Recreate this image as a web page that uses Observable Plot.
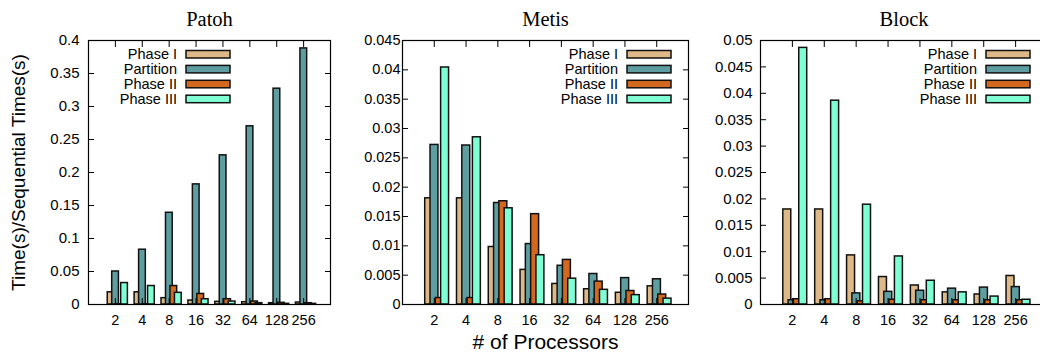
<!DOCTYPE html>
<html><head><meta charset="utf-8">
<script src="https://cdn.jsdelivr.net/npm/d3@7"></script>
<script src="https://cdn.jsdelivr.net/npm/@observablehq/plot@0.6"></script>
<style>
body{margin:0;background:#fff;}
#wrap{position:relative;width:1040px;height:354px;overflow:hidden;background:#fff;}
#wrap svg{position:absolute;top:0;}
</style></head><body><div id="wrap"></div>
<script>
const processors = ["2","4","8","16","32","64","128","256"];
const seriesNames = ["Phase I","Partition","Phase II","Phase III"];
const seriesColors = ["#deb887","#5f9ea0","#d2691e","#7fffd4"];

const patohPhase1    = [0.0185, 0.0185, 0.0096, 0.006, 0.004, 0.0035, 0.002, 0.003];
const patohPartition = [0.050, 0.083, 0.139, 0.182, 0.226, 0.270, 0.327, 0.388];
const patohPhase2    = [0.0005, 0.0005, 0.028, 0.016, 0.008, 0.0045, 0.0025, 0.002];
const patohPhase3    = [0.0325, 0.028, 0.0177, 0.008, 0.0045, 0.002, 0.001, 0.001];

const metisPhase1    = [0.0181, 0.0181, 0.0098, 0.0059, 0.0035, 0.0026, 0.002, 0.0031];
const metisPartition = [0.0272, 0.0271, 0.0173, 0.0103, 0.0066, 0.0052, 0.0045, 0.0043];
const metisPhase2    = [0.0011, 0.0011, 0.0176, 0.0154, 0.0076, 0.0039, 0.0023, 0.0017];
const metisPhase3    = [0.0404, 0.0285, 0.0164, 0.0084, 0.0044, 0.0025, 0.0016, 0.001];

const blockPhase1    = [0.018, 0.018, 0.0093, 0.0052, 0.0036, 0.0023, 0.0019, 0.0054];
const blockPartition = [0.0008, 0.0008, 0.0021, 0.0024, 0.0026, 0.003, 0.0032, 0.0033];
const blockPhase2    = [0.001, 0.001, 0.0006, 0.0009, 0.0008, 0.0008, 0.0008, 0.0008];
const blockPhase3    = [0.0486, 0.0386, 0.0189, 0.0091, 0.0045, 0.0023, 0.0015, 0.0009];

const patohTicks = [0, 0.05, 0.1, 0.15, 0.2, 0.25, 0.3, 0.35, 0.4];
const metisTicks = [0, 0.005, 0.01, 0.015, 0.02, 0.025, 0.03, 0.035, 0.04, 0.045];
const blockTicks = [0, 0.005, 0.01, 0.015, 0.02, 0.025, 0.03, 0.035, 0.04, 0.045, 0.05];

const yLabel = "Time(s)/Sequential Times(s)";
const xLabel = "# of Processors";

const panels = [
  {title: "Patoh", series: [patohPhase1, patohPartition, patohPhase2, patohPhase3], yMax: 0.4, ticks: patohTicks,
   left: 0, width: 340, mL: 88, mR: 10, pad: 9, legendX: 186, yLabel: true, stretch: 1},
  {title: "Metis", series: [metisPhase1, metisPartition, metisPhase2, metisPhase3], yMax: 0.045, ticks: metisTicks,
   left: 340, width: 360, mL: 62, mR: 12, pad: 2, legendX: 287, xLabel: true, stretch: 1.25},
  {title: "Block", series: [blockPhase1, blockPartition, blockPhase2, blockPhase3], yMax: 0.05, ticks: blockTicks,
   left: 690, width: 360, mL: 70, mR: 3, pad: 8, legendX: 296, stretch: 1}
];

const font = "'Liberation Sans', Arial, Helvetica, sans-serif";
const wrap = document.getElementById("wrap");
const idx = processors.map((_, i) => i);
const fmt = d => String(+d.toFixed(4));
const BW = 0.25, STEP = 1/6, SHIFT = 0.09;

for (const p of panels) {
  const marks = [];
  p.series.forEach((vals, s) => {
    const data = vals.map((v, i) => ({i, v, s}));
    marks.push(Plot.rect(data, {
      x1: d => d.i + (d.s - 1.5) * STEP + SHIFT - BW / 2,
      x2: d => d.i + (d.s - 1.5) * STEP + SHIFT + BW / 2,
      y1: () => 0,
      y2: "v",
      fill: seriesColors[s],
      stroke: "#111",
      strokeWidth: 1.5
    }));
  });
  marks.push(Plot.frame({stroke: "#000", strokeWidth: 1.2}));
  marks.push(Plot.axisY({ticks: p.ticks, tickSize: 0, tickPadding: p.pad, tickFormat: fmt, label: null,
    fontSize: p.stretch > 1 ? 14.5 : 15, ariaLabel: "ylabels"}));
  marks.push(Plot.axisY({ticks: p.ticks, anchor: "left", tickSize: -6, fill: "none", label: null}));
  marks.push(Plot.axisY({ticks: p.ticks, anchor: "right", tickSize: -6, fill: "none", label: null}));
  marks.push(Plot.axisX({ticks: idx, tickSize: 0, tickPadding: 10, tickFormat: i => processors[i], label: null, fontSize: 14.5}));
  marks.push(Plot.axisX({ticks: idx, anchor: "bottom", tickSize: -6, fill: "none", label: null}));
  marks.push(Plot.axisX({ticks: idx, anchor: "top", tickSize: -6, fill: "none", label: null}));
  marks.push(Plot.text([p.title], {text: d => d, frameAnchor: "top", lineAnchor: "bottom", dy: -15,
    fontFamily: "'Liberation Serif', 'Times New Roman', serif", fontSize: 20.5, fill: "#000"}));
  if (p.yLabel) marks.push(Plot.text([yLabel], {text: d => d, frameAnchor: "left", textAnchor: "middle",
    lineAnchor: "middle", rotate: -90, dx: -70, fontSize: 19, fill: "#000"}));
  if (p.xLabel) marks.push(Plot.text([xLabel], {text: d => d, frameAnchor: "bottom", lineAnchor: "bottom", dy: 44,
    fontSize: 21, fill: "#000"}));

  const svg = Plot.plot({
    width: p.width, height: 354,
    marginLeft: p.mL, marginRight: p.mR, marginTop: 40, marginBottom: 50,
    x: {type: "linear", domain: [-1, 8]},
    y: {type: "linear", domain: [0, p.yMax]},
    style: {fontFamily: font, fontSize: "15px", color: "#000", background: "transparent", overflow: "visible"},
    marks
  });
  svg.style.left = p.left + "px";
  if (p.stretch !== 1) {
    d3.select(svg).selectAll('g[aria-label="ylabels"] text').each(function() {
      const t = this.getAttribute("transform");
      if (t) {
        this.setAttribute("transform", t + ` scale(${p.stretch},1)`);
      } else {
        const x = +this.getAttribute("x") || 0, y = +this.getAttribute("y") || 0;
        this.removeAttribute("x"); this.removeAttribute("y");
        this.setAttribute("transform", `translate(${x},${y}) scale(${p.stretch},1)`);
      }
    });
  }
  const g = d3.select(svg).append("g").attr("font-family", font).attr("font-size", 14.5);
  seriesNames.forEach((name, j) => {
    const cy = 54 + j * 14.9;
    g.append("rect").attr("x", p.legendX).attr("y", cy - 3.5).attr("width", 44).attr("height", 7.5)
      .attr("fill", seriesColors[j]).attr("stroke", "#111").attr("stroke-width", 1.5);
    g.append("text").attr("x", p.legendX - 9).attr("y", cy).attr("dy", "0.36em")
      .attr("text-anchor", "end").attr("fill", "#000").text(name);
  });
  wrap.appendChild(svg);
}
</script></body></html>
